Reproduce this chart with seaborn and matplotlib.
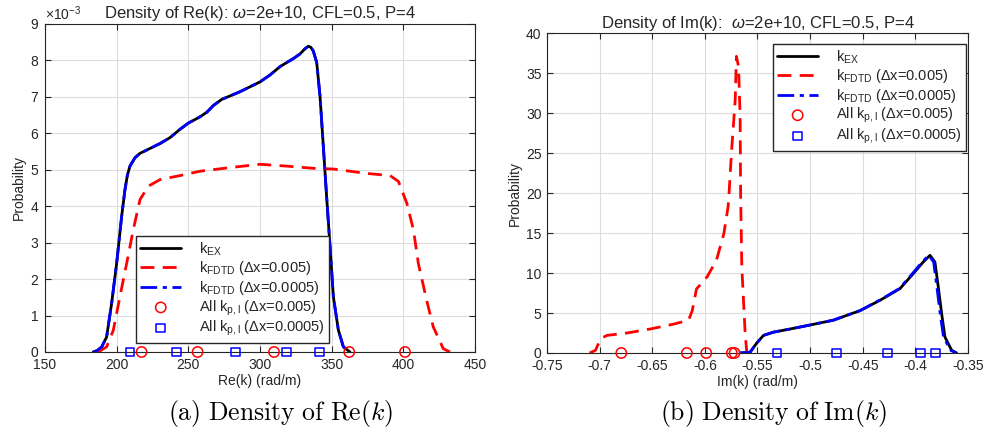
import numpy as np
import pandas as pd
import matplotlib
matplotlib.use("Agg")
import matplotlib.pyplot as plt
import seaborn as sns

# ---- data ----
# left panel: density of Re(k), y in units of 1e-3
re_ex_x = [183.7, 186.5, 189.6, 193.0, 196.5, 200.0, 203.5, 205.8, 207.5, 209.3, 212.8, 216.3, 222.0,
           230.3, 237.2, 244.2, 250.0, 258.1, 263.0, 267.4, 273.3, 286.0, 300.0, 307.0, 314.0, 319.0,
           323.3, 328.0, 331.4, 333.8, 335.5, 337.2, 339.6, 341.9, 344.2, 346.5, 348.9, 351.2, 354.7,
           358.2, 362.8]
re_ex_y = [0.0, 0.04, 0.14, 0.41, 1.33, 2.43, 3.72, 4.45, 4.85, 5.10, 5.33, 5.45, 5.56,
           5.72, 5.88, 6.11, 6.28, 6.45, 6.58, 6.76, 6.93, 7.14, 7.41, 7.6, 7.83, 7.95,
           8.05, 8.18, 8.32, 8.39, 8.36, 8.26, 7.94, 7.02, 5.65, 4.27, 2.89, 1.52, 0.6,
           0.14, 0.0]
re_fd1_x = [187.2, 193.0, 197.7, 202.3, 207.0, 211.6, 216.3, 222.1, 230.3, 244.2, 258.2, 281.4, 300.0,
            318.6, 337.2, 351.2, 374.4, 390.8, 396.6, 402.4, 407.1, 410.5, 416.3, 420.9, 427.9, 432.6]
re_fd1_y = [0.0, 0.14, 0.6, 1.52, 2.43, 3.35, 4.18, 4.55, 4.73, 4.84, 4.96, 5.07, 5.15,
            5.10, 5.04, 5.02, 4.9, 4.84, 4.68, 4.09, 3.35, 2.43, 1.42, 0.69, 0.09, 0.0]
re_fd2_x = re_ex_x
re_fd2_y = re_ex_y
re_pts1 = [217.4, 256.5, 309.8, 362.3, 401.2]
re_pts2 = [209.3, 241.9, 283.0, 318.6, 341.4]

# right panel: density of Im(k)
im_ex_x = [-0.5665, -0.557, -0.551, -0.5443, -0.535, -0.519, -0.500, -0.478, -0.4525, -0.4336, -0.4146,
           -0.4020, -0.3925, -0.3861, -0.3814, -0.3782, -0.3750, -0.3719, -0.3655, -0.3608]
im_ex_y = [0.0, 0.1, 1.2, 2.2, 2.6, 3.0, 3.5, 4.1, 5.3, 6.59, 8.05,
           9.92, 11.38, 12.21, 11.38, 8.25, 4.92, 2.0, 0.34, 0.0]
im_fd2_x = [-0.5665, -0.557, -0.551, -0.5443, -0.535, -0.519, -0.500, -0.478, -0.4525, -0.4340, -0.4152,
            -0.4028, -0.3935, -0.3872, -0.3826, -0.3795, -0.3764, -0.3732, -0.3665, -0.3612]
im_fd2_y = im_ex_y
im_fd1_x = [-0.7095, -0.704, -0.699, -0.693, -0.674, -0.652, -0.630, -0.6155, -0.612, -0.608, -0.598,
            -0.589, -0.582, -0.578, -0.5775, -0.5744, -0.5712, -0.570, -0.568, -0.5665, -0.566,
            -0.5649, -0.5617, -0.5601]
im_fd1_y = [0.0, 0.33, 1.8, 2.2, 2.5, 3.0, 3.6, 4.1, 5.3, 8.0, 9.5,
            11.6, 14.9, 18.25, 19.0, 25.7, 31.6, 37.1, 35.8, 29.5, 19.5,
            10.75, 2.4, 0.0]
im_pts1 = [-0.6794, -0.6171, -0.5987, -0.5744, -0.5718]
im_pts2 = [-0.5316, -0.4747, -0.4263, -0.3949, -0.3807]

labels = [r"k$_{\mathrm{EX}}$", r"k$_{\mathrm{FDTD}}$ (Δx=0.005)", r"k$_{\mathrm{FDTD}}$ (Δx=0.0005)",
          r"All k$_{\mathrm{p,l}}$ (Δx=0.005)", r"All k$_{\mathrm{p,l}}$ (Δx=0.0005)"]

# ---- style ----
sns.set_style("whitegrid")
txt = "#262626"
plt.rcParams["font.family"] = ["Liberation Sans", "DejaVu Sans"]
plt.rcParams["mathtext.fontset"] = "custom"
plt.rcParams["mathtext.rm"] = "Liberation Sans"
plt.rcParams["mathtext.it"] = "Liberation Sans:italic"
plt.rcParams["mathtext.bf"] = "Liberation Sans:bold"
plt.rcParams.update({"axes.edgecolor": txt, "axes.labelcolor": txt, "xtick.color": txt,
                     "ytick.color": txt, "text.color": txt, "grid.color": "#dcdcdc",
                     "grid.linewidth": 0.8})

fig = plt.figure(figsize=(9.86, 4.36), dpi=100)
ax1 = fig.add_axes([0.0456, 0.1927, 0.4361, 0.7523])
ax2 = fig.add_axes([0.5548, 0.1904, 0.4269, 0.7336])


def draw(ax, ex, fd1, fd2, p1, p2, scale):
    sns.lineplot(x=ex[0], y=np.array(ex[1]) * scale, ax=ax, color="black", lw=2,
                 sort=False, estimator=None, label=labels[0])
    sns.lineplot(x=fd1[0], y=np.array(fd1[1]) * scale, ax=ax, color="red", lw=2,
                 sort=False, estimator=None, label=labels[1])
    sns.lineplot(x=fd2[0], y=np.array(fd2[1]) * scale, ax=ax, color="blue", lw=2,
                 sort=False, estimator=None, label=labels[2])
    ax.lines[1].set_dashes([5, 3])
    ax.lines[2].set_dashes([6, 2, 1.5, 2])
    for ln in ax.lines:
        ln.set_solid_joinstyle("round")
        ln.set_dash_joinstyle("round")
    sns.scatterplot(x=p1, y=np.zeros(len(p1)), ax=ax, marker="o", s=55, facecolor="none",
                    edgecolor="red", linewidth=1.1, label=labels[3], clip_on=False, zorder=5)
    sns.scatterplot(x=p2, y=np.zeros(len(p2)), ax=ax, marker="s", s=38, facecolor="none",
                    edgecolor="blue", linewidth=1.1, label=labels[4], clip_on=False, zorder=5)
    for sp in ax.spines.values():
        sp.set_visible(True)
        sp.set_color(txt)
        sp.set_linewidth(0.8)
    ax.tick_params(direction="in", length=4, width=0.8, labelsize=10, top=True, right=True,
                   bottom=True, left=True, pad=4)
    ax.set_ylabel("Probability", fontsize=10, labelpad=3)


leg_kw = dict(fontsize=10.5, frameon=True, fancybox=False, edgecolor=txt, framealpha=1,
              handlelength=2.8, labelspacing=0.1, borderpad=0.3, handletextpad=1.2,
              borderaxespad=0)

draw(ax1, (re_ex_x, re_ex_y), (re_fd1_x, re_fd1_y), (re_fd2_x, re_fd2_y), re_pts1, re_pts2, 1e-3)
ax1.set_xlim(150, 450)
ax1.set_ylim(0, 9e-3)
ax1.set_xticks(np.arange(150, 451, 50))
ax1.set_yticks(np.arange(0, 9.01e-3, 1e-3))
ax1.ticklabel_format(axis="y", style="sci", scilimits=(0, 0), useMathText=True)
ax1.yaxis.get_offset_text().set_fontsize(10)
ax1.set_xlabel("Re(k) (rad/m)", fontsize=10, labelpad=2)
ax1.set_title(r"Density of Re(k): $\omega$=2e+10, CFL=0.5, P=4", fontsize=12, pad=4)
h, l = ax1.get_legend_handles_labels()
ax1.legend(h, l, loc="upper left", bbox_to_anchor=(0.2116, 0.353), **leg_kw)

draw(ax2, (im_ex_x, im_ex_y), (im_fd1_x, im_fd1_y), (im_fd2_x, im_fd2_y), im_pts1, im_pts2, 1)
ax2.set_xlim(-0.75, -0.35)
ax2.set_ylim(0, 40)
ax2.set_xticks(np.arange(-0.75, -0.349, 0.05))
ax2.set_xticklabels(["-0.75", "-0.7", "-0.65", "-0.6", "-0.55", "-0.5", "-0.45", "-0.4", "-0.35"])
ax2.set_yticks(np.arange(0, 41, 5))
ax2.set_xlabel("Im(k) (rad/m)", fontsize=10, labelpad=2)
ax2.set_title(r"Density of Im(k):  $\omega$=2e+10, CFL=0.5, P=4", fontsize=12, pad=4)
h, l = ax2.get_legend_handles_labels()
ax2.legend(h, l, loc="upper right", bbox_to_anchor=(0.995, 0.966), **leg_kw)

# captions
fig.text(0.285, 0.052, r"$\mathrm{(a)\ Density\ of\ Re}(k)$", ha="center", va="center",
         fontsize=18.5, color="black", math_fontfamily="cm")
fig.text(0.784, 0.052, r"$\mathrm{(b)\ Density\ of\ Im}(k)$", ha="center", va="center",
         fontsize=18.5, color="black", math_fontfamily="cm")

fig.savefig("out.png", dpi=100)
